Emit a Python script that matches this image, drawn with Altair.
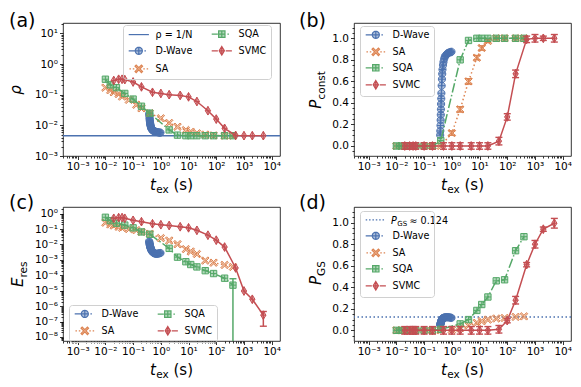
import math
import altair as alt
import pandas as pd

# ------------------------------------------------------------------
# Data
# ------------------------------------------------------------------
dw_t = [0.38, 0.385, 0.39, 0.395, 0.40, 0.405, 0.41, 0.415, 0.42, 0.43, 0.44, 0.45,
        0.46, 0.48, 0.50, 0.53, 0.56, 0.60, 0.65, 0.70, 0.76, 0.83, 0.90, 0.97]
sa_t = [0.01, 0.015, 0.02, 0.03, 0.04, 0.07, 0.13, 0.2, 0.4, 1, 2, 4, 8, 12, 20, 40, 80, 200, 400]
sqa_t = [0.01, 0.015, 0.025, 0.05, 0.1, 0.2, 0.4, 2, 4, 8, 12, 20, 40, 80, 200, 400]
svmc_t = [0.02, 0.03, 0.04, 0.05, 0.1, 0.2, 0.5, 1, 2, 5, 10, 20, 50, 100, 200, 500, 1000, 2000, 5000]

# (a) rho
rho_floor = 0.0046
dw_rho = [0.024, 0.021, 0.018, 0.016, 0.0145, 0.013, 0.012, 0.011, 0.0103, 0.0095, 0.0088, 0.0082,
          0.0078, 0.0073, 0.0070, 0.0067, 0.0065, 0.0063, 0.0062, 0.0061, 0.0060, 0.0059, 0.0058, 0.0058]
sa_rho = [0.17, 0.14, 0.12, 0.105, 0.087, 0.068, 0.047, 0.036, 0.025, 0.017, 0.012, 0.009,
          0.007, 0.0062, 0.0055, 0.005, 0.0047, 0.0046, 0.0046]
sqa_rho = [0.32, 0.21, 0.17, 0.11, 0.072, 0.042, 0.025, 0.0071, 0.0048, 0.0046, 0.0046, 0.0046,
           0.0046, 0.0046, 0.0046, 0.0046]
svmc_rho = [0.29, 0.32, 0.32, 0.31, 0.26, 0.18, 0.12, 0.11, 0.10, 0.095, 0.085, 0.06, 0.03,
            0.016, 0.008, 0.0047, 0.0046, 0.0046, 0.0046]

# (b) P_const
dw_pc = [0.10, 0.14, 0.19, 0.24, 0.29, 0.34, 0.39, 0.44, 0.49, 0.56, 0.62, 0.67,
         0.71, 0.75, 0.78, 0.81, 0.83, 0.84, 0.85, 0.86, 0.865, 0.87, 0.87, 0.875]
sa_pc = [0, 0, 0, 0, 0, 0, 0, 0, 0, 0.12, 0.34, 0.60, 0.82, 0.91, 0.975, 1.0, 1.0, 1.0, 1.0]
sa_pc_err = [0, 0, 0, 0, 0, 0, 0, 0, 0, 0.02, 0.025, 0.025, 0.02, 0.02, 0.015, 0.01, 0.01, 0.01, 0.01]
sqa_pc = [0, 0, 0, 0, 0, 0, 0.05, 0.80, 0.98, 1.0, 1.0, 1.0, 1.0, 1.0, 1.0, 1.0]
svmc_pc = [0, 0, 0, 0, 0, 0, 0, 0, 0, 0, 0, 0, 0.045, 0.27, 0.67, 0.99, 1.0, 1.0, 1.0]
svmc_pc_err = [0.03, 0.03, 0.03, 0.03, 0.03, 0.03, 0.03, 0.03, 0.03, 0.03, 0.03, 0.03,
               0.035, 0.03, 0.035, 0.03, 0.035, 0.02, 0.035]

# (c) E_res
dw_e = [0.016, 0.014, 0.012, 0.0105, 0.0095, 0.0085, 0.0077, 0.0070, 0.0064, 0.0057, 0.0051, 0.0046,
        0.0042, 0.0037, 0.0033, 0.0030, 0.0028, 0.0026, 0.0025, 0.0025, 0.0025, 0.0026, 0.0027, 0.0028]
sa_e = [0.26, 0.2, 0.17, 0.14, 0.12, 0.10, 0.085, 0.065, 0.05, 0.026, 0.018, 0.0105, 0.005,
        0.0035, 0.0024, 0.0009, 0.00066, 0.00047, 0.00035]
sqa_e = [0.58, 0.35, 0.24, 0.18, 0.12, 0.065, 0.046, 0.0056, 0.0015, 0.00076, 0.0005, 0.00035,
         0.0002, 0.00013, 0.000065, 0.000023]
sqa_e_lo = [None] * 15 + [1e-12]
sqa_e_hi = [None] * 15 + [6e-5]
svmc_e = [0.50, 0.55, 0.55, 0.50, 0.37, 0.30, 0.22, 0.19, 0.17, 0.14, 0.12, 0.083, 0.04, 0.019,
          0.0068, 0.0003, 9.6e-6, 2.8e-6, 2.6e-7]
svmc_e_lo = [None] * 18 + [5e-8]
svmc_e_hi = [None] * 18 + [4.5e-7]

# (d) P_GS
pgs_ref = 0.124
dw_pgs = [0.05, 0.055, 0.06, 0.065, 0.07, 0.075, 0.08, 0.085, 0.09, 0.095, 0.10, 0.105,
          0.11, 0.113, 0.116, 0.118, 0.12, 0.121, 0.122, 0.122, 0.121, 0.12, 0.118, 0.116]
sa_pgs = [0, 0, 0, 0, 0, 0, 0, 0, 0, 0.005, 0.02, 0.045, 0.07, 0.085, 0.10, 0.11, 0.115, 0.125, 0.13]
sqa_pgs = [0, 0, 0, 0, 0, 0, 0.01, 0.06, 0.10, 0.185, 0.24, 0.31, 0.46, 0.47, 0.74, 0.87]
svmc_pgs = [0, 0, 0, 0, 0, 0, 0, 0, 0, 0, 0, 0, 0.01, 0.09, 0.28, 0.61, 0.80, 0.94, 0.995]
svmc_pgs_err = [0.035, 0.035, 0.035, 0.035, 0.035, 0.035, 0.035, 0.035, 0.035, 0.035, 0.035, 0.035,
                0.035, 0.02, 0.035, 0.02, 0.035, 0.02, 0.045]

# ------------------------------------------------------------------
# Styles
# ------------------------------------------------------------------
FONT = "DejaVu Sans"
BLUE, ORANGE, GREEN, RED = "#4c72b0", "#dd8452", "#55a868", "#c44e52"
LIGHT = {"D-Wave": "#afc0db", "SA": "#f0c8b1", "SQA": "#b3d8bb", "SVMC": "#e4afb1"}
W, H1, H2 = 217, 133, 134
MSIZE = 56


def circle_path(r, n=20):
    pts = [(r * math.cos(2 * math.pi * k / n), r * math.sin(2 * math.pi * k / n)) for k in range(n)]
    return "M" + "L".join(f"{x:.3f},{y:.3f}" for x, y in pts) + "Z"


def cross_path(rx, ry):
    return f" M{-rx},0L{rx},0 M0,{-ry}L0,{ry}"


MK_CIRCLE = circle_path(0.95) + cross_path(0.95, 0.95)
MK_SQUARE = "M-0.85,-0.85L0.85,-0.85L0.85,0.85L-0.85,0.85Z" + cross_path(0.85, 0.85)
MK_DIAMOND = "M0,-1.15L0.7,0L0,1.15L-0.7,0Z" + cross_path(0.7, 1.15)
MK_X = ("M-1,-0.7L-0.7,-1L0,-0.3L0.7,-1L1,-0.7L0.3,0L1,0.7L0.7,1L0,0.3L-0.7,1L-1,0.7L-0.3,0Z")

SEG_SOLID = "M-2.7,0L-1.05,0 M1.05,0L2.7,0 "
SEG_DASHDOT = "M-2.7,0L-1.05,0 M1.5,0L1.9,0 "
SEG_DOT = "M-2.5,0L-2.1,0 M-1.6,0L-1.2,0 M1.2,0L1.6,0 M2.1,0L2.5,0 "
SEG_REF = "M-2.7,0L2.7,0"
SEG_REF_DOT = "M-2.7,0L-2.3,0 M-1.8,0L-1.4,0 M-0.9,0L-0.5,0 M0,0L0.4,0 M0.9,0L1.3,0 M1.8,0L2.2,0"

SER = {
    "D-Wave": dict(t=dw_t, color=BLUE, dash=[9.6, 2.4, 1.5, 2.4], mk=MK_CIRCLE, seg=SEG_DASHDOT),
    "SA": dict(t=sa_t, color=ORANGE, dash=[1.5, 2.5], mk=MK_X, seg=SEG_DOT),
    "SQA": dict(t=sqa_t, color=GREEN, dash=[9.6, 2.4, 1.5, 2.4], mk=MK_SQUARE, seg=SEG_DASHDOT),
    "SVMC": dict(t=svmc_t, color=RED, dash=None, mk=MK_DIAMOND, seg=SEG_SOLID),
}
ORDER = ["D-Wave", "SA", "SQA", "SVMC"]

# ------------------------------------------------------------------
# Axes helpers
# ------------------------------------------------------------------
LOG10 = "(log(datum.value) / LN10)"
IS_POW = f"abs({LOG10} - round({LOG10})) < 0.001"
EXP = f"round({LOG10})"
SUP = "'⁰¹²³⁴⁵⁶⁷⁸⁹'"
LOG_LABEL = (f"{IS_POW} ? '10' + ({EXP} < 0 ? '⁻' : '') + "
             f"substring({SUP}, abs({EXP}), abs({EXP}) + 1) : ''")
IS_MAJ = "abs(datum.value * 5 - round(datum.value * 5)) < 0.001"
LIN_LABEL = f"{IS_MAJ} ? format(datum.value, '.1f') : ''"


def log_ticks(lo, hi):
    out = []
    for e in range(-10, 6):
        for k in range(1, 10):
            v = k * 10.0 ** e
            if lo <= v <= hi:
                out.append(float(f"{v:.3g}"))
    return out


def lin_ticks(lo, hi):
    out = []
    for i in range(-4, 30):
        v = round(i * 0.05, 2)
        if lo <= v <= hi:
            out.append(v)
    return out


def make_axis(values, label_expr, test, orient):
    return alt.Axis(values=values, labelExpr=label_expr, title=None, grid=False, domain=False,
                    ticks=True, tickColor="black", tickWidth=0.8,
                    tickSize={"condition": {"test": test, "value": 3.5}, "value": 2.0},
                    labelFont=FONT, labelFontSize=10.5, labelColor="black", labelPadding=2,
                    labelOverlap=False, labelFlush=False, labelBound=False, orient=orient)


XDOM = [10 ** -3.53, 10 ** 4.30]
XSC = alt.Scale(type="log", domain=XDOM, nice=False)
XAX = make_axis(log_ticks(*XDOM), LOG_LABEL, IS_POW, "bottom")


def X():
    return alt.X("t:Q", scale=XSC, axis=XAX)


ONE = pd.DataFrame({"k": [0]})


def txt(s, x, y, size, style="normal", angle=0, align="left", baseline="alphabetic"):
    return alt.Chart(ONE).mark_text(text=s, font=FONT, fontSize=size, fontStyle=style, angle=angle,
                                    align=align, baseline=baseline, color="black").encode(
        x=alt.value(x), y=alt.value(y))


def x_title(h):
    return [txt("t", 87, h + 34, 15, "italic"),
            txt("ex", 93.2, h + 37, 10.5),
            txt("(s)", 110.5, h + 34, 15)]


def panel(vals, ysc, yax, h, errs, refs, entries, leg, extra):
    layers = list(refs)
    for name in ORDER:
        s = SER[name]
        df = pd.DataFrame({"t": s["t"], "v": vals[name]})
        lk = dict(color=s["color"], strokeWidth=1.5, clip=True)
        if s["dash"]:
            lk["strokeDash"] = s["dash"]
        layers.append(alt.Chart(df).mark_line(**lk).encode(
            x=X(), y=alt.Y("v:Q", scale=ysc, axis=yax)))
        if name in errs:
            lo, hi = errs[name]
            edf = pd.DataFrame({"t": s["t"], "lo": lo, "hi": hi}).dropna()
            layers.append(alt.Chart(edf).mark_rule(color=s["color"], strokeWidth=1.5, clip=True).encode(
                x=X(), y=alt.Y("lo:Q", scale=ysc, axis=yax), y2="hi:Q"))
            for col in ["lo", "hi"]:
                layers.append(alt.Chart(edf).mark_tick(orient="horizontal", size=7, thickness=1.4,
                                                       color=s["color"], clip=True, opacity=1).encode(
                    x=X(), y=alt.Y(f"{col}:Q", scale=ysc, axis=yax)))
        layers.append(alt.Chart(df).mark_point(shape=s["mk"], filled=True, fill=s["color"], fillOpacity=0.45,
                                               stroke=s["color"], strokeWidth=1, size=MSIZE, opacity=1,
                                               clip=True).encode(
            x=X(), y=alt.Y("v:Q", scale=ysc, axis=yax)))
    # legend carrier (invisible points, legend drawn by Vega-Lite)
    names = [e[0] for e in entries]
    ldf = pd.DataFrame({"series": names, "t": [e[1] for e in entries], "v": [e[2] for e in entries]})
    layers.append(alt.Chart(ldf).mark_point(filled=True, opacity=0, size=MSIZE).encode(
        x=X(), y=alt.Y("v:Q", scale=ysc, axis=yax),
        fill=alt.Fill("series:N", scale=alt.Scale(domain=names, range=[e[5] for e in entries]), legend=leg),
        stroke=alt.Stroke("series:N", scale=alt.Scale(domain=names, range=[e[4] for e in entries]), legend=leg),
        shape=alt.Shape("series:N", scale=alt.Scale(domain=names, range=[e[3] for e in entries]), legend=leg),
    ))
    layers += extra
    return alt.layer(*layers).properties(width=W, height=h)


def entry(name, v):
    s = SER[name]
    return (name, s["t"][0], v, s["seg"] + s["mk"], s["color"], LIGHT[name])


def legend(x, y, cols, label_expr="datum.label"):
    return alt.Legend(title=None, orient="none", legendX=x, legendY=y, columns=cols,
                      labelFont=FONT, labelFontSize=9.6, labelColor="black", labelExpr=label_expr,
                      symbolSize=MSIZE, symbolStrokeWidth=1.2, symbolOpacity=1,
                      symbolOffset=7, labelOffset=12, rowPadding=4, columnPadding=16,
                      padding=4, strokeColor="#d0d0d0", cornerRadius=3, labelLimit=300)


# ------------------------------------------------------------------
# Panel (a)
# ------------------------------------------------------------------
YA_DOM = [1e-3, 10 ** 1.34]
YA_SC = alt.Scale(type="log", domain=YA_DOM, nice=False)
YA_AX = make_axis(log_ticks(*YA_DOM), LOG_LABEL, IS_POW, "left")
ref_a = alt.Chart(ONE).mark_rule(color=BLUE, strokeWidth=1.5, clip=True).encode(
    y=alt.YDatum(rho_floor, type="quantitative", scale=YA_SC, axis=YA_AX))
ent_a = [("ρ = 1/N", sa_t[0], rho_floor, SEG_REF, BLUE, BLUE),
         entry("D-Wave", dw_rho[0]), entry("SA", sa_rho[0]), entry("SQA", sqa_rho[0]), entry("SVMC", svmc_rho[0])]
pa = panel({"D-Wave": dw_rho, "SA": sa_rho, "SQA": sqa_rho, "SVMC": svmc_rho}, YA_SC, YA_AX, H1, {},
           [ref_a], ent_a, legend(60, 2, 2),
           [txt("(a)", -54, 4, 19), txt("ρ", -42, 67, 15, "italic", 270, "center")] + x_title(H1))

# ------------------------------------------------------------------
# Panel (b)
# ------------------------------------------------------------------
YB_DOM = [-0.093, 1.142]
YB_SC = alt.Scale(type="linear", domain=YB_DOM, nice=False, zero=False)
YB_AX = make_axis(lin_ticks(*YB_DOM), LIN_LABEL, IS_MAJ, "left")
ent_b = [entry("D-Wave", dw_pc[0]), entry("SA", sa_pc[0]), entry("SQA", sqa_pc[0]), entry("SVMC", svmc_pc[0])]
errs_b = {"SA": ([v - e if e > 0 else None for v, e in zip(sa_pc, sa_pc_err)],
                 [v + e if e > 0 else None for v, e in zip(sa_pc, sa_pc_err)]),
          "SVMC": ([v - e for v, e in zip(svmc_pc, svmc_pc_err)],
                   [v + e for v, e in zip(svmc_pc, svmc_pc_err)])}
pb = panel({"D-Wave": dw_pc, "SA": sa_pc, "SQA": sqa_pc, "SVMC": svmc_pc}, YB_SC, YB_AX, H1, errs_b,
           [], ent_b, legend(6, 3, 1),
           [txt("(b)", -55, 4, 19), txt("P", -33, 85.7, 15, "italic", 270),
            txt("const", -29.5, 76.5, 10.5, "normal", 270)] + x_title(H1))

# ------------------------------------------------------------------
# Panel (c)
# ------------------------------------------------------------------
YC_DOM = [10 ** -8.26, 10 ** 0.43]
YC_SC = alt.Scale(type="log", domain=YC_DOM, nice=False)
YC_AX = make_axis(log_ticks(*YC_DOM), LOG_LABEL, IS_POW, "left")
ent_c = [entry("D-Wave", dw_e[0]), entry("SA", sa_e[0]), entry("SQA", sqa_e[0]), entry("SVMC", svmc_e[0])]
errs_c = {"SQA": (sqa_e_lo, sqa_e_hi), "SVMC": (svmc_e_lo, svmc_e_hi)}
pc = panel({"D-Wave": dw_e, "SA": sa_e, "SQA": sqa_e, "SVMC": svmc_e}, YC_SC, YC_AX, H2, errs_c,
           [], ent_c, legend(6, 98, 2),
           [txt("(c)", -54, 2, 19), txt("E", -40, 80, 15, "italic", 270),
            txt("res", -36.5, 70.5, 10.5, "normal", 270)] + x_title(H2))

# ------------------------------------------------------------------
# Panel (d)
# ------------------------------------------------------------------
YD_DOM = [-0.099, 1.146]
YD_SC = alt.Scale(type="linear", domain=YD_DOM, nice=False, zero=False)
YD_AX = make_axis(lin_ticks(*YD_DOM), LIN_LABEL, IS_MAJ, "left")
ref_d = alt.Chart(ONE).mark_rule(color=BLUE, strokeWidth=1.5, strokeDash=[1.5, 2.5], clip=True).encode(
    y=alt.YDatum(pgs_ref, type="quantitative", scale=YD_SC, axis=YD_AX))
ent_d = [("P_GS", sa_t[0], pgs_ref, SEG_REF_DOT, BLUE, BLUE),
         entry("D-Wave", dw_pgs[0]), entry("SA", sa_pgs[0]), entry("SQA", sqa_pgs[0]), entry("SVMC", svmc_pgs[0])]
errs_d = {"SVMC": ([v - e for v, e in zip(svmc_pgs, svmc_pgs_err)],
                   [v + e for v, e in zip(svmc_pgs, svmc_pgs_err)])}
blank = "\u00a0" * 19
pd_ = panel({"D-Wave": dw_pgs, "SA": sa_pgs, "SQA": sqa_pgs, "SVMC": svmc_pgs}, YD_SC, YD_AX, H2, errs_d,
            [ref_d], ent_d, legend(6, 4, 1, f"datum.label == 'P_GS' ? '{blank}' : datum.label"),
            [txt("(d)", -55, 2, 19), txt("P", -33, 78, 15, "italic", 270),
             txt("GS", -29.5, 69, 10.5, "normal", 270),
             txt("P", 37, 16.5, 9.6, "italic"), txt("GS", 43.3, 18.5, 7),
             txt("≈ 0.124", 55.5, 16.5, 9.6)] + x_title(H2))

chart = alt.concat(pa, pb, pc, pd_, columns=2, spacing={"row": 51, "column": 74}).properties(
    bounds="flush", align="each", padding={"left": 0, "top": 3, "right": 0, "bottom": 0}
).resolve_scale(fill="independent", stroke="independent", shape="independent").configure(
    background="white", font=FONT
).configure_view(stroke="black", strokeWidth=0.8)

chart.save("out.html", embed_options={"renderer": "svg", "actions": False})
